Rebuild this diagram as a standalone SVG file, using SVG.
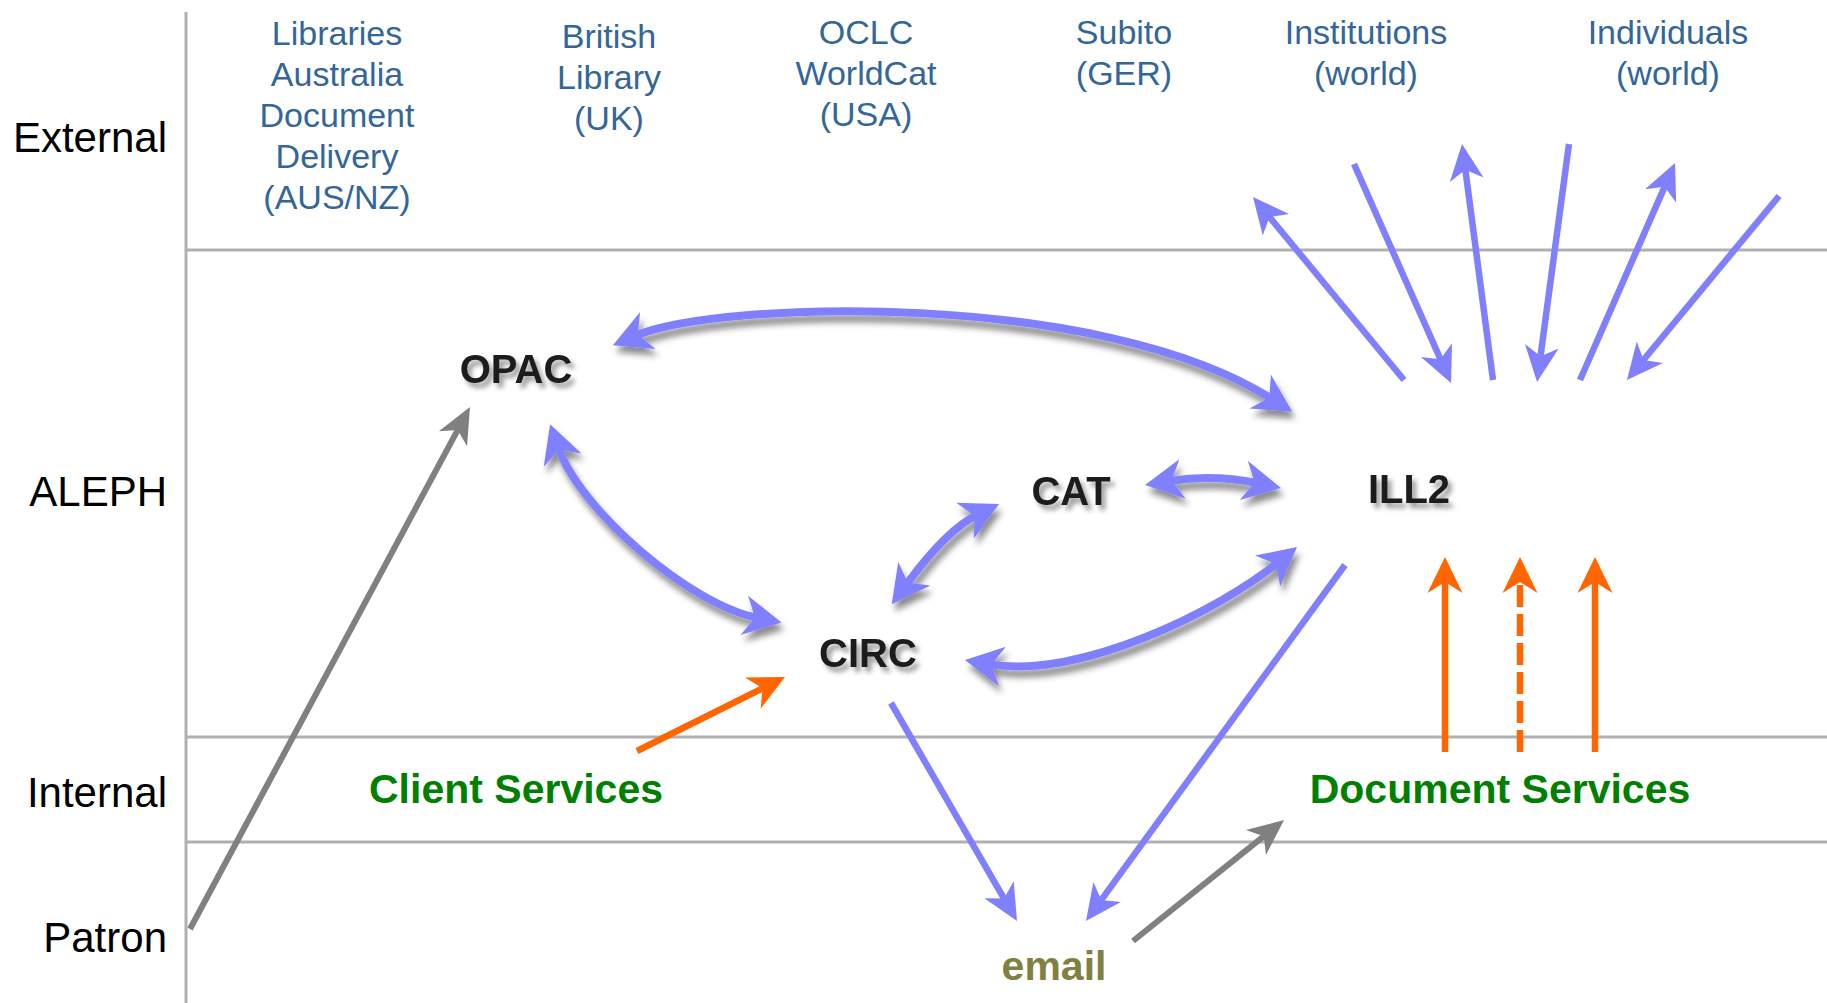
<svg xmlns="http://www.w3.org/2000/svg" width="1827" height="1003" viewBox="0 0 1827 1003">
<style>
.lane{stroke:#b0b0b0;stroke-width:3;fill:none}
.lbl{font-family:"Liberation Sans",Arial,sans-serif;font-size:42px;fill:#000;text-anchor:end}
.ext{font-family:"Liberation Sans",Arial,sans-serif;font-size:34px;fill:#336699;text-anchor:middle}
.node{font-family:"Liberation Sans",Arial,sans-serif;font-size:40px;font-weight:bold;fill:#1a1a1a;text-anchor:middle}
.svc{font-family:"Liberation Sans",Arial,sans-serif;font-size:41px;font-weight:bold;fill:#008000;text-anchor:middle}
.mail{font-family:"Liberation Sans",Arial,sans-serif;font-size:41px;font-weight:bold;fill:#808040;text-anchor:middle}
.blue{stroke:#8080ff;stroke-width:6.5;fill:none;marker-end:url(#hBlue)}
.thick{stroke:#8080ff;stroke-width:8;fill:none;marker-start:url(#hThick);marker-end:url(#hThick);filter:url(#ashadow)}
.gray{stroke:#808080;stroke-width:6;fill:none;marker-end:url(#hGray)}
.orange{stroke:#ff6600;stroke-width:6.5;fill:none;marker-end:url(#hOrange)}
</style>
<defs>
<filter id="tshadow" filterUnits="userSpaceOnUse" x="0" y="0" width="1827" height="1003">
<feDropShadow dx="4" dy="5" stdDeviation="2.5" flood-color="#000" flood-opacity="0.4"/>
</filter>
<filter id="ashadow" filterUnits="userSpaceOnUse" x="0" y="0" width="1827" height="1003">
<feDropShadow dx="3" dy="7" stdDeviation="3" flood-color="#000" flood-opacity="0.45"/>
</filter>
<marker id="hBlue" markerUnits="userSpaceOnUse" viewBox="0 -20 40 40" markerWidth="40" markerHeight="40" refX="13" refY="0" orient="auto">
<path d="M0,-17 L36,0 L0,17 L10,0 z" fill="#8080ff"/>
</marker>
<marker id="hGray" markerUnits="userSpaceOnUse" viewBox="0 -20 40 40" markerWidth="40" markerHeight="40" refX="13" refY="0" orient="auto">
<path d="M0,-16 L36,0 L0,16 L10,0 z" fill="#808080"/>
</marker>
<marker id="hOrange" markerUnits="userSpaceOnUse" viewBox="0 -20 40 40" markerWidth="40" markerHeight="40" refX="13" refY="0" orient="auto">
<path d="M0,-17.5 L36,0 L0,17.5 L11,0 z" fill="#ff6600"/>
</marker>
<marker id="hThick" markerUnits="userSpaceOnUse" viewBox="0 -22 42 44" markerWidth="42" markerHeight="44" refX="14" refY="0" orient="auto-start-reverse">
<path d="M0,-20 L38,0 L0,20 L11,0 z" fill="#8080ff"/>
</marker>
</defs>
<rect width="1827" height="1003" fill="#fff"/>

<g id="lanes">
<line class="lane" x1="186" y1="12" x2="186" y2="1003"/>
<line class="lane" x1="186" y1="250" x2="1827" y2="250"/>
<line class="lane" x1="186" y1="737" x2="1827" y2="737"/>
<line class="lane" x1="186" y1="842" x2="1827" y2="842"/>
<text class="lbl" x="167" y="152">External</text>
<text class="lbl" x="167" y="506">ALEPH</text>
<text class="lbl" x="167" y="807">Internal</text>
<text class="lbl" x="167" y="952">Patron</text>
</g>

<g id="ext-libraries-australia">
<text class="ext" x="337" y="45">Libraries</text>
<text class="ext" x="337" y="86">Australia</text>
<text class="ext" x="337" y="127">Document</text>
<text class="ext" x="337" y="168">Delivery</text>
<text class="ext" x="337" y="209">(AUS/NZ)</text>
</g>
<g id="ext-british-library">
<text class="ext" x="609" y="48">British</text>
<text class="ext" x="609" y="89">Library</text>
<text class="ext" x="609" y="130">(UK)</text>
</g>
<g id="ext-oclc">
<text class="ext" x="866" y="44">OCLC</text>
<text class="ext" x="866" y="85">WorldCat</text>
<text class="ext" x="866" y="126">(USA)</text>
</g>
<g id="ext-subito">
<text class="ext" x="1124" y="44">Subito</text>
<text class="ext" x="1124" y="85">(GER)</text>
</g>
<g id="ext-institutions">
<text class="ext" x="1366" y="44">Institutions</text>
<text class="ext" x="1366" y="85">(world)</text>
</g>
<g id="ext-individuals">
<text class="ext" x="1668" y="44">Individuals</text>
<text class="ext" x="1668" y="85">(world)</text>
</g>

<g id="node-opac"><text class="node" x="516" y="383" filter="url(#tshadow)">OPAC</text></g>
<g id="node-cat"><text class="node" x="1071" y="505" filter="url(#tshadow)">CAT</text></g>
<g id="node-ill2"><text class="node" x="1409" y="503" filter="url(#tshadow)">ILL2</text></g>
<g id="node-circ"><text class="node" x="868" y="667" filter="url(#tshadow)">CIRC</text></g>
<g id="node-client-services"><text class="svc" x="516" y="803">Client Services</text></g>
<g id="node-document-services"><text class="svc" x="1500" y="803">Document Services</text></g>
<g id="node-email"><text class="mail" x="1054" y="980">email</text></g>

<g id="connectors">
<path class="thick" d="M635,336 C720,300 1100,290 1272,399"/>
<path class="thick" d="M558,447 C580,510 690,605 758,618"/>
<path class="thick" d="M906,585 C920,566 950,528 977.5,514.6"/>
<path class="thick" d="M1168.7,481.2 Q1213,474 1257.5,483.2"/>
<path class="thick" d="M988.6,664.1 C1080,680 1220,610 1278.4,562.2"/>

<line class="blue" x1="1404" y1="380" x2="1267.6" y2="214.7"/>
<line class="blue" x1="1354" y1="164" x2="1441.7" y2="362"/>
<line class="blue" x1="1493" y1="380" x2="1465" y2="166.8"/>
<line class="blue" x1="1569" y1="144" x2="1540.1" y2="359.2"/>
<line class="blue" x1="1580" y1="380" x2="1665.8" y2="184.1"/>
<line class="blue" x1="1779" y1="196" x2="1641.6" y2="362.3"/>
<line class="blue" x1="891" y1="703" x2="1005.5" y2="901.1"/>
<line class="blue" x1="1345" y1="565" x2="1099.5" y2="902.4"/>

<line class="gray" x1="190" y1="929" x2="459.1" y2="427.3"/>
<line class="gray" x1="1133" y1="941" x2="1266.1" y2="834.4"/>

<line class="orange" x1="637" y1="751" x2="764.4" y2="687.3"/>
<line class="orange" x1="1445" y1="752" x2="1445" y2="580"/>
<line class="orange" x1="1520" y1="752" x2="1520" y2="580" stroke-dasharray="22 7"/>
<line class="orange" x1="1595" y1="752" x2="1595" y2="580"/>
</g>
</svg>
